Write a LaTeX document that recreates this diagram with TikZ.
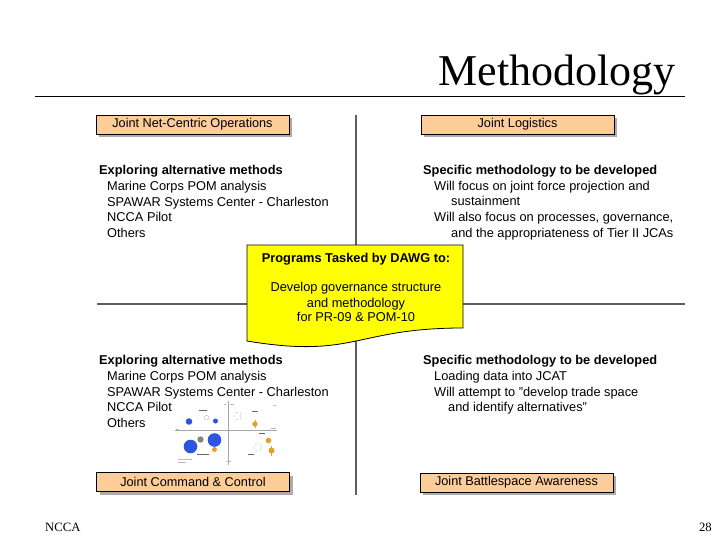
\documentclass[tikz,border=0pt]{standalone}
\usepackage{fontspec}
\setmainfont{Liberation Sans}
\newfontfamily\seriffam{Liberation Serif}
\usetikzlibrary{shadows}
\definecolor{peach}{RGB}{252,204,153}
\definecolor{docyellow}{RGB}{255,255,0}
\definecolor{rulegray}{RGB}{95,95,95}
\definecolor{bubblue}{RGB}{45,85,225}
\definecolor{buborange}{RGB}{225,160,45}
\definecolor{bubgray}{RGB}{130,135,130}
\begin{document}
\begin{tikzpicture}[x=1pt,y=-1pt,
  catbox/.style={draw=black, fill=peach, line width=0.8pt, minimum width=193pt,
    minimum height=19pt, inner sep=0pt, font=\fontsize{12.7}{15}\selectfont,
    drop shadow={shadow xshift=3pt, shadow yshift=-3pt, fill=gray!65, opacity=1}},
  txt/.style={anchor=base west, inner sep=0pt, font=\fontsize{12.8}{15}\selectfont},
  hd/.style={anchor=base west, inner sep=0pt, font=\fontsize{12.8}{15}\selectfont\bfseries},
  ctxt/.style={anchor=base, inner sep=0pt, font=\fontsize{12.8}{15}\selectfont},
  divider/.style={draw=rulegray, line width=1.2pt},
  axis/.style={draw=gray!70, line width=0.4pt},
  tick/.style={draw=black!60, line width=0.5pt},
  faint/.style={draw=gray!55, line width=0.35pt},
]
\useasboundingbox (0,0) rectangle (720,540);

% title and rule
\node[anchor=base east, inner sep=0pt, font=\seriffam\fontsize{44}{50}\selectfont] (title) at (676,86) {Methodology};
\coordinate (ruleL) at (35,96);
\coordinate (ruleR) at (685,96);
\draw[line width=0.8pt] (ruleL) -- (ruleR);

% quadrant dividers
\coordinate (vTop) at (356,115);
\coordinate (vBot) at (356,495);
\coordinate (hL) at (97,304);
\coordinate (hR) at (685,304);
\draw[divider] (vTop) -- (vBot);
\draw[divider] (hL) -- (hR);

% category boxes
\node[catbox] (jnco) at (192.5,124.5) {Joint Net-Centric Operations};
\node[catbox] (jl) at (517.5,124.5) {Joint Logistics};
\node[catbox] (jcc) at (193,482) {Joint Command \& Control};
\node[catbox] (jba) at (516.5,482.5) {Joint Battlespace Awareness};

% top-left text
\node[hd] (tl0) at (99,174.5) {Exploring alternative methods};
\node[txt] (tl1) at (107,190.2) {Marine Corps POM analysis};
\node[txt] (tl2) at (107,206.2) {SPAWAR Systems Center - Charleston};
\node[txt] (tl3) at (107,221.8) {NCCA Pilot};
\node[txt] (tl4) at (107,237.8) {Others};

% top-right text
\node[hd] (tr0) at (423,174.5) {Specific methodology to be developed};
\node[txt] (tr1) at (434,190.2) {Will focus on joint force projection and};
\node[txt] (tr2) at (451,205.8) {sustainment};
\node[txt] (tr3) at (434,221.8) {Will also focus on processes, governance,};
\node[txt] (tr4) at (451,237.8) {and the appropriateness of Tier II JCAs};

% bottom-left text
\node[hd] (bl0) at (99,364.5) {Exploring alternative methods};
\node[txt] (bl1) at (107,380.5) {Marine Corps POM analysis};
\node[txt] (bl2) at (107,396.5) {SPAWAR Systems Center - Charleston};
\node[txt] (bl3) at (107,411.8) {NCCA Pilot};
\node[txt] (bl4) at (107,427.5) {Others};

% bottom-right text
\node[hd] (br0) at (423,364.5) {Specific methodology to be developed};
\node[txt] (br1) at (434,380.5) {Loading data into JCAT};
\node[txt] (br2) at (434,396.5) {Will attempt to "develop trade space};
\node[txt] (br3) at (448,411.8) {and identify alternatives"};

% central document shape
\draw[fill=docyellow, draw=black, line width=0.8pt]
  (247,245) -- (463,245) -- (463,328) .. controls (355,328) and (355,359) .. (247,341) -- cycle;
\node[ctxt, font=\fontsize{12.8}{15}\selectfont\bfseries] (d0) at (356,262) {Programs Tasked by DAWG to:};
\node[ctxt] (d1) at (356,291.8) {Develop governance structure};
\node[ctxt] (d2) at (356,307.2) {and methodology};
\node[ctxt] (d3) at (356,321.8) {for PR-09 \& POM-10};

% small bubble chart
\coordinate (axV1) at (228,401);
\coordinate (axV2) at (228,465);
\coordinate (axH1) at (175,430);
\coordinate (axH2) at (277,430);
\draw[axis] (axV1) -- (axV2);
\draw[axis] (axH1) -- (axH2);
\fill[bubblue] (189,421.5) circle (3.3);
\draw[gray!60, line width=0.3pt] (206.5,417.5) circle (2.3);
\fill[bubblue] (215.5,421) circle (2.5);
\fill[bubgray] (200.5,439.5) circle (3.2);
\fill[bubblue] (214.5,440) circle (6.8);
\fill[bubblue] (190.5,446.5) circle (6.8);
\fill[buborange] (214.5,449.5) circle (2.5);
\draw[gray!60, line width=0.3pt, densely dashed] (237.5,416) circle (3.8);
\fill[buborange] (255,424) circle (2.7);
\fill[buborange] (268.5,440.5) circle (2.8);
\draw[gray!60, line width=0.3pt, densely dashed] (257.5,447.5) circle (3.8);
\fill[buborange] (271.5,450.5) circle (3);
\draw[buborange, line width=0.6pt] (271.5,446) -- (271.5,456);
\draw[buborange, line width=0.6pt] (255,420) -- (255,428);
% tiny unreadable labels rendered as marks
\draw[tick] (199,410.5) -- (207,410.5);
\draw[tick] (197,454) -- (209,454);
\draw[faint] (178,459.5) -- (192,459.5);
\draw[faint] (178,462) -- (186,462);
\draw[faint] (176,429) -- (179,429);
\draw[faint] (224,404) -- (226,404);
\draw[faint] (230,404) -- (234,404);
\draw[tick] (252,411) -- (258,411);
\draw[tick] (259,433.5) -- (265,433.5);
\draw[faint] (271,428.5) -- (276,428.5);
\draw[tick] (248,454.5) -- (254,454.5);
\draw[faint] (226,461) -- (231,461);
\draw[faint] (273,405) -- (276,405);

% footer
\node[anchor=base west, inner sep=0pt, font=\seriffam\fontsize{12.7}{15}\selectfont] (foot) at (45,531.5) {NCCA};
\node[anchor=base east, inner sep=0pt, font=\seriffam\fontsize{12.7}{15}\selectfont] (page) at (712,531.5) {28};
\end{tikzpicture}
\end{document}
